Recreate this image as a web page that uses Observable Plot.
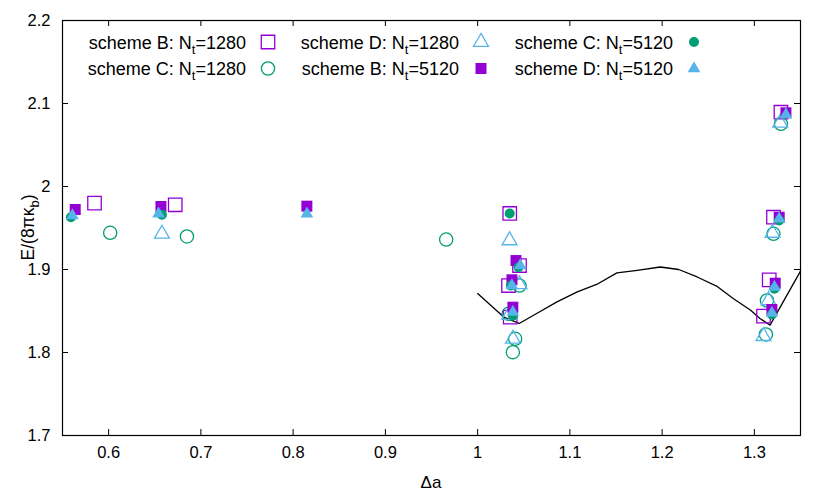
<!DOCTYPE html>
<html><head><meta charset="utf-8">
<script src="https://cdn.jsdelivr.net/npm/d3@7"></script>
<script src="https://cdn.jsdelivr.net/npm/@observablehq/plot@0.6"></script>
<style>
body{margin:0;background:#fff;}
#wrap{position:relative;width:830px;height:498px;}
</style></head><body><div id="wrap"></div>
<script>
// ---- data ----
const xTicks = [0.6, 0.7, 0.8, 0.9, 1.0, 1.1, 1.2, 1.3];
const yTicks = [1.7, 1.8, 1.9, 2.0, 2.1, 2.2];
const legendLabels = [
  ["scheme B: N", "t", "=1280"],
  ["scheme C: N", "t", "=1280"],
  ["scheme D: N", "t", "=1280"],
  ["scheme B: N", "t", "=5120"],
  ["scheme C: N", "t", "=5120"],
  ["scheme D: N", "t", "=5120"]
];
const B1280 = [[0.5847,1.9799],[0.6722,1.978],[1.0348,1.9675],[1.0454,1.9048],[1.0335,1.8807],[1.0353,1.8426],[1.3099,1.8438],[1.3161,1.8876],[1.3207,1.963],[1.3288,2.0895]];
const C1280 = [[0.6017,1.9442],[0.6849,1.9398],[0.9659,1.9361],[1.0454,1.8807],[1.0335,1.8466],[1.0407,1.8165],[1.0382,1.8004],[1.3125,1.8217],[1.3136,1.8627],[1.3207,1.943],[1.3288,2.0755]];
const D1280 = [[0.6578,1.943],[1.0346,1.935],[1.0454,1.882],[1.034,1.845],[1.0382,1.8165],[1.3099,1.8196],[1.3153,1.8627],[1.3196,1.944],[1.328,2.0767]];
const B5120 = [[0.5638,1.9723],[0.6567,1.9759],[0.8149,1.9763],[1.0416,1.9108],[1.0372,1.8876],[1.0382,1.8546],[1.319,1.8518],[1.3226,1.8835],[1.3269,1.963],[1.3342,2.0888]];
const C5120 = [[0.5591,1.963],[0.6578,1.9659],[1.0348,1.9675],[1.0443,1.9028],[1.0361,1.8807],[1.0382,1.8446],[1.319,1.8458],[1.3218,1.8767],[1.3269,1.959]];
const D5120 = [[0.5608,1.965],[0.6541,1.9671],[0.8149,1.9671],[1.0462,1.9048],[1.0372,1.8807],[1.0382,1.8486],[1.319,1.8474],[1.3218,1.8787],[1.3269,1.961],[1.3342,2.0867]];
const curveX = [1.0, 1.028, 1.045, 1.064, 1.086, 1.108, 1.129, 1.151, 1.173, 1.198, 1.218, 1.238, 1.259, 1.277, 1.296, 1.306, 1.317, 1.35];
const curveY = [1.871, 1.843, 1.835, 1.847, 1.861, 1.873, 1.882, 1.896, 1.899, 1.903, 1.900, 1.891, 1.880, 1.865, 1.851, 1.841, 1.833, 1.898];

// ---- styles ----
const colB = "#9400d3", colC = "#009e73", colD = "#56b4e9";
const FONT = '"Liberation Sans", Arial, sans-serif';
const series = [
  {data: B1280, symbol: "square",   open: true,  color: colB, r: 7.6},
  {data: C1280, symbol: "circle",   open: true,  color: colC, r: 6.6},
  {data: D1280, symbol: "triangle", open: true,  color: colD, r: 5.5},
  {data: B5120, symbol: "square",   open: false, color: colB, r: 6.2},
  {data: C5120, symbol: "circle",   open: false, color: colC, r: 5.0},
  {data: D5120, symbol: "triangle", open: false, color: colD, r: 4.7}
];
const curve = curveX.map((x, i) => ({x, y: curveY[i]}));

const W = 830, H = 498, mL = 62, mR = 30, mT = 20, mB = 63;
const pw = W - mL - mR, ph = H - mT - mB, tl = 6;
const fmt = d => String(+d.toFixed(1));

const chart = Plot.plot({
  width: W, height: H,
  marginLeft: mL, marginRight: mR, marginTop: mT, marginBottom: mB,
  style: {fontFamily: FONT, fontSize: "16.5px", color: "black", background: "white"},
  x: {domain: [0.55, 1.35]},
  y: {domain: [1.7, 2.2]},
  marks: [
    Plot.line(curve, {x: "x", y: "y", stroke: "black", strokeWidth: 1.3}),
    ...series.map(s => Plot.dot(s.data, {
      x: d => d[0], y: d => d[1], symbol: s.symbol, r: s.r,
      fill: s.open ? "none" : s.color, stroke: s.open ? s.color : "none", strokeWidth: 1.3
    })),
    Plot.tickX(xTicks, {x: d => d, stroke: "black", insetTop: ph - tl}),
    Plot.tickX(xTicks, {x: d => d, stroke: "black", insetBottom: ph - tl}),
    Plot.tickY(yTicks, {y: d => d, stroke: "black", insetRight: pw - tl}),
    Plot.tickY(yTicks, {y: d => d, stroke: "black", insetLeft: pw - tl}),
    Plot.axisX(xTicks, {tickSize: 0, tickPadding: 11, tickFormat: fmt, label: null, fontSize: 16.5}),
    Plot.axisY(yTicks, {tickSize: 0, tickPadding: 12, tickFormat: fmt, label: null, fontSize: 16.5}),
    Plot.frame({stroke: "black", strokeWidth: 1.2})
  ]
});
document.getElementById("wrap").appendChild(chart);

// ---- axis titles and legend (text with subscripts) ----
const svg = d3.select(chart);
svg.append("text")
  .attr("x", mL + pw / 2).attr("y", 488)
  .attr("text-anchor", "middle").attr("font-family", FONT).attr("font-size", 17).attr("fill", "black")
  .text("Δa");

const yl = svg.append("text")
  .attr("transform", `translate(34,${mT + ph / 2}) rotate(-90)`)
  .attr("text-anchor", "middle").attr("font-family", FONT).attr("font-size", 17.5).attr("fill", "black");
yl.append("tspan").text("E/(8πκ");
yl.append("tspan").attr("dy", 5).attr("font-size", 13).text("b");
yl.append("tspan").attr("dy", -5).text(")");

const legX = [246, 459, 673], legY = [42, 68.5], symX = [268, 481, 694];
series.forEach((s, i) => {
  const col = Math.floor(i / 2), row = i % 2;
  const t = svg.append("text").attr("x", legX[col]).attr("y", legY[row] + 6.5)
    .attr("text-anchor", "end").attr("font-family", FONT).attr("font-size", 18).attr("fill", "black");
  const [a, sub, b] = legendLabels[i];
  t.append("tspan").text(a);
  t.append("tspan").attr("dy", 5).attr("font-size", 13).text(sub);
  t.append("tspan").attr("dy", -5).text(b);
  const sym = {square: d3.symbolSquare, circle: d3.symbolCircle, triangle: d3.symbolTriangle}[s.symbol];
  svg.append("path")
    .attr("transform", `translate(${symX[col]},${legY[row]})`)
    .attr("d", d3.symbol(sym, Math.PI * s.r * s.r)())
    .attr("fill", s.open ? "none" : s.color)
    .attr("stroke", s.open ? s.color : "none")
    .attr("stroke-width", 1.3);
});
</script></body></html>
